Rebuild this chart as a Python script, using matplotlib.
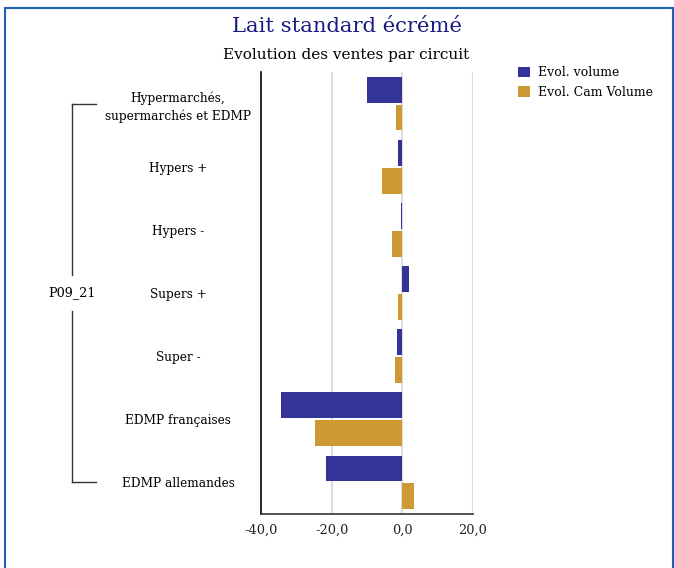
import matplotlib
matplotlib.use("Agg")
import matplotlib.pyplot as plt
from matplotlib.lines import Line2D
import matplotlib.transforms as mtransforms
import numpy as np

categories = ["Hypermarchés,\nsupermarchés et EDMP", "Hypers +", "Hypers -", "Supers +",
              "Super -", "EDMP françaises", "EDMP allemandes"]
evol_volume = [-10.1, -1.3, -0.3, 1.8, -1.6, -34.2, -21.5]
evol_cam_volume = [-1.8, -5.8, -3.0, -1.3, -2.2, -24.6, 3.2]
series_names = ["Evol. volume", "Evol. Cam Volume"]
group_label = "P09_21"
xticks = [-40, -20, 0, 20]
xtick_labels = ["-40,0", "-20,0", "0,0", "20,0"]

plt.rcParams['font.family'] = ['DejaVu Serif']

W, H = 674, 568
fig = plt.figure(figsize=(W / 100, H / 100), dpi=100)

ax = fig.add_axes([261 / W, 1 - 514 / H, (473 - 261) / W, (514 - 72) / H])

y = np.arange(len(categories))
bh = 0.41
off = 0.22
blue = "#333399"
gold = "#CC9933"
ax.barh(y - off, evol_volume, height=bh, color=blue, label=series_names[0], zorder=3)
ax.barh(y + off, evol_cam_volume, height=bh, color=gold, label=series_names[1], zorder=3)

ax.set_ylim(len(categories) - 0.5, -0.5)
ax.set_xlim(-40, 20)
ax.set_xticks(xticks)
ax.set_xticklabels(xtick_labels, fontsize=9.3, color="#222222")
ax.set_yticks(y)
ax.set_yticklabels(categories, fontsize=8.7, ha="center", linespacing=1.4)
ax.tick_params(axis="y", length=0, pad=(261 - 178) * 0.72)
ax.tick_params(axis="x", length=0, pad=7)
for v in xticks[1:]:
    ax.axvline(v, color="#dddddd", lw=1.5, zorder=1)
for s in ["top", "right"]:
    ax.spines[s].set_visible(False)
ax.spines["left"].set_color("black")
ax.spines["bottom"].set_color("#333333")
ax.spines["left"].set_linewidth(1.2)
ax.spines["bottom"].set_linewidth(1.2)

# bracket
tr = mtransforms.blended_transform_factory(fig.transFigure, ax.transData)
bx = 72 / W
tx = 96 / W
lc = "#333333"
fig.add_artist(Line2D([bx, tx], [0, 0], transform=tr, color=lc, lw=1))
fig.add_artist(Line2D([bx, tx], [6, 6], transform=tr, color=lc, lw=1))
fig.add_artist(Line2D([bx, bx], [0, 2.72], transform=tr, color=lc, lw=1))
fig.add_artist(Line2D([bx, bx], [3.28, 6], transform=tr, color=lc, lw=1))
fig.text(bx, 3, group_label, transform=tr, ha="center", va="center", fontsize=9.2)

# titles
fig.text(347 / W, 1 - 27 / H, "Lait standard écrémé", ha="center", va="center",
         fontsize=15.2, color="#1a1a80")
fig.text(346 / W, 1 - 55 / H, "Evolution des ventes par circuit", ha="center", va="center",
         fontsize=11, color="black")

# legend
leg = fig.legend(loc="upper left", bbox_to_anchor=(512 / W, 1 - 60 / H), frameon=False,
                 fontsize=9, handlelength=0.95, handleheight=0.95, handletextpad=0.6,
                 labelspacing=0.55, borderpad=0)

# frame
fc = "#2060b0"
fig.add_artist(Line2D([5 / W, 5 / W], [0, 1 - 8 / H], transform=fig.transFigure, color=fc, lw=1.5))
fig.add_artist(Line2D([5 / W, 673 / W], [1 - 8 / H, 1 - 8 / H], transform=fig.transFigure, color=fc, lw=1.5))
fig.add_artist(Line2D([673 / W, 673 / W], [0, 1 - 8 / H], transform=fig.transFigure, color=fc, lw=1.5))

fig.savefig("out.png", dpi=100)
